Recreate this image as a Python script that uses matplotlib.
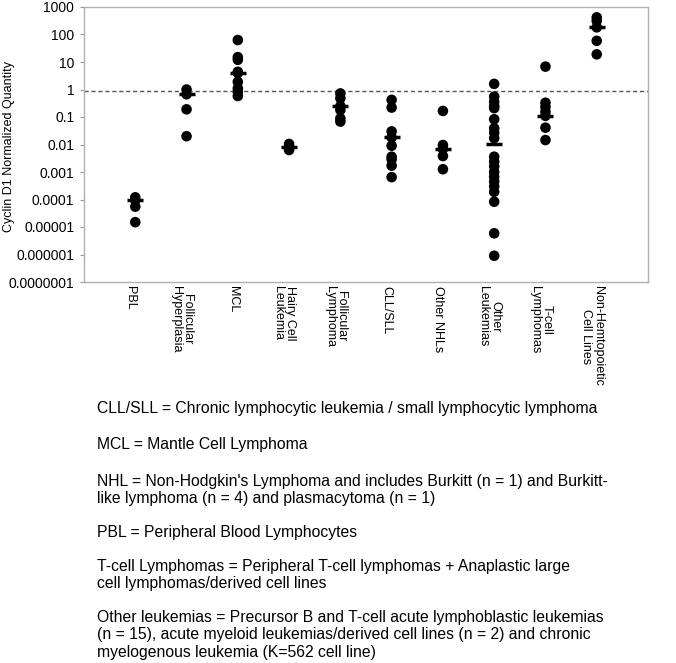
import matplotlib.pyplot as plt
import matplotlib.transforms as mtransforms
import numpy as np

plt.rcParams['font.family'] = ['Liberation Sans', 'DejaVu Sans']

# categories shown on the x axis (left to right)
categories = ['PBL', 'Follicular\nHyperplasia', 'MCL', 'Hairy Cell\nLeukemia',
              'Follicular\nLymphoma', 'CLL/SLL', 'Other NHLs', 'Other\nLeukemias',
              'T-cell\nLymphomas', 'Non-Hemtopoietic\nCell Lines']

# individual cyclin D1 normalized quantities, per category
pbl = [1.2e-4, 9.5e-5, 5.5e-5, 1.5e-5]
follicular_hyperplasia = [1.0, 0.67, 0.19, 0.02]
mcl = [63, 15, 12, 4.4, 4.0, 1.9, 1.1, 0.83, 0.58]
hairy_cell = [0.0105, 0.0083, 0.0063]
follicular_lymphoma = [0.72, 0.48, 0.25, 0.18, 0.089, 0.068]
cll_sll = [0.42, 0.22, 0.03, 0.018, 0.009, 0.0036, 0.0029, 0.0017, 0.00065]
other_nhl = [0.166, 0.0096, 0.0069, 0.0038, 0.00126]
other_leukemias = [1.6, 0.55, 0.36, 0.25, 0.21, 0.083, 0.039, 0.027, 0.017,
                   0.0036, 0.0024, 0.0016, 0.001, 0.00067, 0.00045, 0.0003,
                   0.00019, 8.3e-5, 5.9e-6, 9e-7]
t_cell = [6.8, 0.33, 0.23, 0.155, 0.11, 0.041, 0.0145]
non_hemato = [420, 316, 182, 59, 19]

groups = [pbl, follicular_hyperplasia, mcl, hairy_cell, follicular_lymphoma,
          cll_sll, other_nhl, other_leukemias, t_cell, non_hemato]

# group means (short horizontal bars)
means = [1.0e-4, 0.67, 4.0, 0.008, 0.25, 0.018, 0.0069, 0.0105, 0.11, 182]

threshold = 0.9

ytick_vals = [1e3, 1e2, 1e1, 1, 1e-1, 1e-2, 1e-3, 1e-4, 1e-5, 1e-6, 1e-7]
ytick_labels = ['1000', '100', '10', '1', '0.1', '0.01', '0.001', '0.0001',
                '0.00001', '0.000001', '0.0000001']

footnotes = [
    ('CLL/SLL = Chronic lymphocytic leukemia / small lymphocytic lymphoma', 413),
    ('MCL = Mantle Cell Lymphoma', 449),
    ("NHL = Non-Hodgkin's Lymphoma and includes Burkitt (n = 1) and Burkitt-", 486),
    ('like lymphoma (n = 4) and plasmacytoma (n = 1)', 503),
    ('PBL = Peripheral Blood Lymphocytes', 537),
    ('T-cell Lymphomas = Peripheral T-cell lymphomas + Anaplastic large', 571),
    ('cell lymphomas/derived cell lines', 588),
    ('Other leukemias = Precursor B and T-cell acute lymphoblastic leukemias', 622),
    ('(n = 15), acute myeloid leukemias/derived cell lines (n = 2) and chronic', 639),
    ('myelogenous leukemia (K=562 cell line)', 657),
]

W, H = 676, 663
fig = plt.figure(figsize=(W / 100, H / 100), dpi=100)
ax = fig.add_axes([84 / W, 1 - 282 / H, (648 - 84) / W, (282 - 7) / H])

for i, vals in enumerate(groups):
    x = np.full(len(vals), i + 1)
    ax.scatter(x, vals, s=58, color='black', edgecolors='none', zorder=3)
    ax.plot([i + 1], [means[i]], marker='_', markersize=12, mew=2.5,
            color='black', zorder=4)

ax.axhline(threshold, color='#555555', lw=1, ls=(0, (3, 2)), zorder=1)

ax.set_yscale('log')
ax.set_ylim(1e-7, 1e3)
ax.set_xlim(0, 11)
ax.set_yticks(ytick_vals)
ax.set_yticklabels(ytick_labels, fontsize=10)
ax.yaxis.set_minor_locator(plt.NullLocator())
ax.tick_params(axis='y', length=3, width=0.8, color='#999999', pad=4)

ax.set_xticks(range(1, len(categories) + 1))
ax.set_xticklabels(categories, rotation=270, fontsize=9,
                   ha='center', va='top', linespacing=0.95)
ax.tick_params(axis='x', length=0, pad=3)
shift = mtransforms.ScaledTranslation(-5 / 100, 0, fig.dpi_scale_trans)
for lbl in ax.get_xticklabels():
    lbl.set_transform(lbl.get_transform() + shift)

for sp in ax.spines.values():
    sp.set_color('#b0b0b0')
    sp.set_linewidth(1)

fig.text(9 / W, 1 - 146 / H, 'Cyclin D1 Normalized Quantity', rotation=90,
         fontsize=9, ha='center', va='center')

for line, y in footnotes:
    fig.text(97 / W, 1 - y / H, line, fontsize=11.3, ha='left', va='baseline')

fig.savefig('out.png', dpi=100)
